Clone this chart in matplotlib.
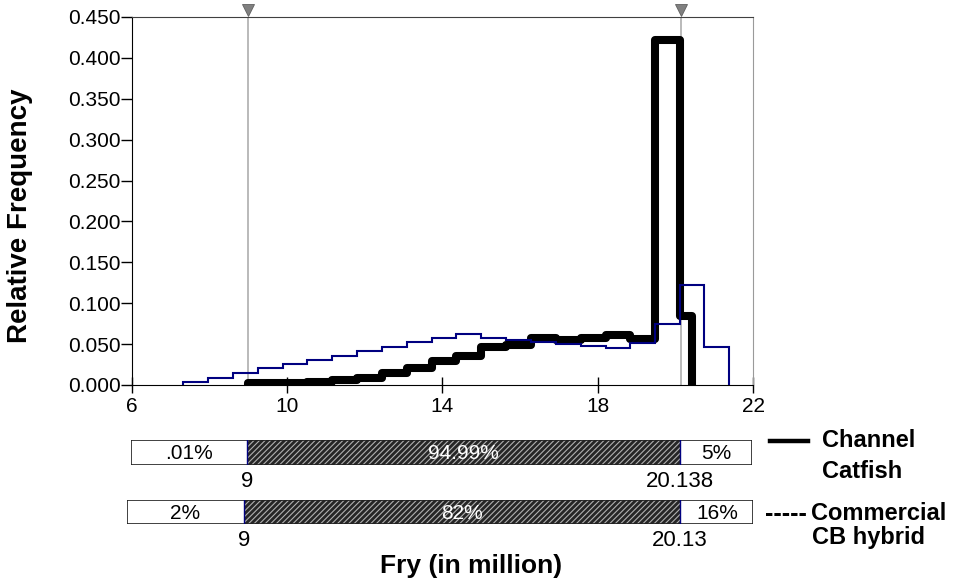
import matplotlib
matplotlib.use("Agg")
import matplotlib.pyplot as plt
from matplotlib.lines import Line2D
from matplotlib.patches import Rectangle

plt.rcParams['font.family'] = ['Liberation Sans', 'DejaVu Sans']
plt.rcParams['hatch.linewidth'] = 0.8

# histogram edges / relative frequencies (fry, in million)
cc_edges = [9.00, 9.88, 10.52, 11.16, 11.80, 12.44, 13.08, 13.72, 14.36, 15.00,
            15.64, 16.28, 16.92, 17.56, 18.20, 18.84, 19.48, 20.11, 20.43]
cc_freq = [0.002, 0.003, 0.004, 0.006, 0.009, 0.015, 0.021, 0.029, 0.035,
           0.047, 0.049, 0.057, 0.055, 0.058, 0.061, 0.056, 0.422, 0.084]

cb_edges = [7.32, 7.97, 8.61, 9.25, 9.88, 10.52, 11.16, 11.80, 12.44, 13.08,
            13.72, 14.36, 15.00, 15.64, 16.28, 16.92, 17.56, 18.20, 18.84,
            19.48, 20.11, 20.74, 21.37]
cb_freq = [0.004, 0.009, 0.015, 0.021, 0.026, 0.031, 0.036, 0.042, 0.047,
           0.053, 0.057, 0.062, 0.058, 0.055, 0.053, 0.050, 0.048, 0.045,
           0.051, 0.075, 0.122, 0.046]

# delimiters and percentages under the graph
cc_lims = [9, 20.138]
cc_pct = ['.01%', '94.99%', '5%']
cc_lim_labels = ['9', '20.138']
cb_lims = [9, 20.13]
cb_pct = ['2%', '82%', '16%']
cb_lim_labels = ['9', '20.13']

x_ticks = [6, 10, 14, 18, 22]
y_ticks = [0.0, 0.05, 0.1, 0.15, 0.2, 0.25, 0.3, 0.35, 0.4, 0.45]

fig = plt.figure(figsize=(9.55, 5.84), dpi=100)
ax = fig.add_axes([0.1382, 0.3408, 0.6503, 0.6301])

# delimiter lines + triangles on top
for xv in cc_lims:
    ax.axvline(xv, color='#b4b4b4', lw=1.3, zorder=1)
    ax.plot([xv], [0.4585], marker='v', ms=8, color='#808080',
            mec='#606060', mew=0.6, clip_on=False, zorder=5)

ax.stairs(cc_freq, cc_edges, baseline=0, color='black', lw=5.8,
          capstyle='round', joinstyle='round', zorder=2)
ax.stairs(cb_freq, cb_edges, baseline=0, color='#000080', lw=1.5, zorder=3)

ax.set_xlim(6, 22)
ax.set_ylim(0, 0.45)
ax.set_xticks(x_ticks)
ax.set_yticks(y_ticks)
ax.set_yticklabels([f'{v:.3f}' for v in y_ticks])
ax.tick_params(axis='y', direction='out', length=8, width=1, pad=0, labelsize=15)
ax.tick_params(axis='x', direction='inout', length=12, width=1, pad=3, labelsize=15)
ax.spines['left'].set_color('black')
ax.spines['bottom'].set_color('black')
ax.spines['top'].set_color('#404040')
ax.spines['right'].set_color('#9a9a9a')
ax.set_ylabel('Relative Frequency', fontsize=20, fontweight='bold')
ax.yaxis.set_label_coords(-0.159, 0.459)


def range_bar(rect, lims, pct, lim_labels):
    bx = fig.add_axes(rect)
    bx.set_xlim(6, 22)
    bx.set_ylim(0, 1)
    bx.axis('off')
    lo, hi = lims
    bx.add_patch(Rectangle((6, 0), lo - 6, 1, fc='white', ec='none'))
    bx.add_patch(Rectangle((lo, 0), hi - lo, 1, fc='#262626',
                           ec='#b0b0b0', lw=0, hatch='//////'))
    bx.add_patch(Rectangle((hi, 0), 22 - hi, 1, fc='white', ec='none'))
    bx.add_patch(Rectangle((6, 0), 16, 1, fc='none', ec='#202020', lw=1.2))
    for xv in lims:
        bx.plot([xv, xv], [0, 1], color='#000080', lw=1)
    bx.text((6 + lo) / 2, 0.45, pct[0], ha='center', va='center', fontsize=15)
    bx.text((lo + hi) / 2, 0.45, pct[1], ha='center', va='center',
            fontsize=15, color='white')
    bx.text((hi + 22) / 2, 0.45, pct[2], ha='center', va='center', fontsize=15)
    for xv, lab in zip(lims, lim_labels):
        bx.text(xv, -0.25, lab, ha='center', va='top', fontsize=16)
    return bx


range_bar([0.1372, 0.2046, 0.6503, 0.0428], cc_lims, cc_pct, cc_lim_labels)
range_bar([0.1327, 0.1027, 0.6563, 0.0411], cb_lims, cb_pct, cb_lim_labels)

fig.text(0.493, 0.031, 'Fry (in million)', ha='center', va='center',
         fontsize=19, fontweight='bold')

# legend at right of the bars
fig.add_artist(Line2D([0.806, 0.846], [0.245, 0.245], color='black', lw=3.2,
                      transform=fig.transFigure))
fig.text(0.861, 0.245, 'Channel', ha='left', va='center', fontsize=17,
         fontweight='bold')
fig.text(0.861, 0.193, 'Catfish', ha='left', va='center', fontsize=17,
         fontweight='bold')
fig.text(0.801, 0.120, '-----', ha='left', va='center', fontsize=18,
         fontweight='bold')
fig.text(0.849, 0.120, 'Commercial', ha='left', va='center', fontsize=17,
         fontweight='bold')
fig.text(0.850, 0.080, 'CB hybrid', ha='left', va='center', fontsize=17,
         fontweight='bold')

fig.savefig('out.png', dpi=100)
